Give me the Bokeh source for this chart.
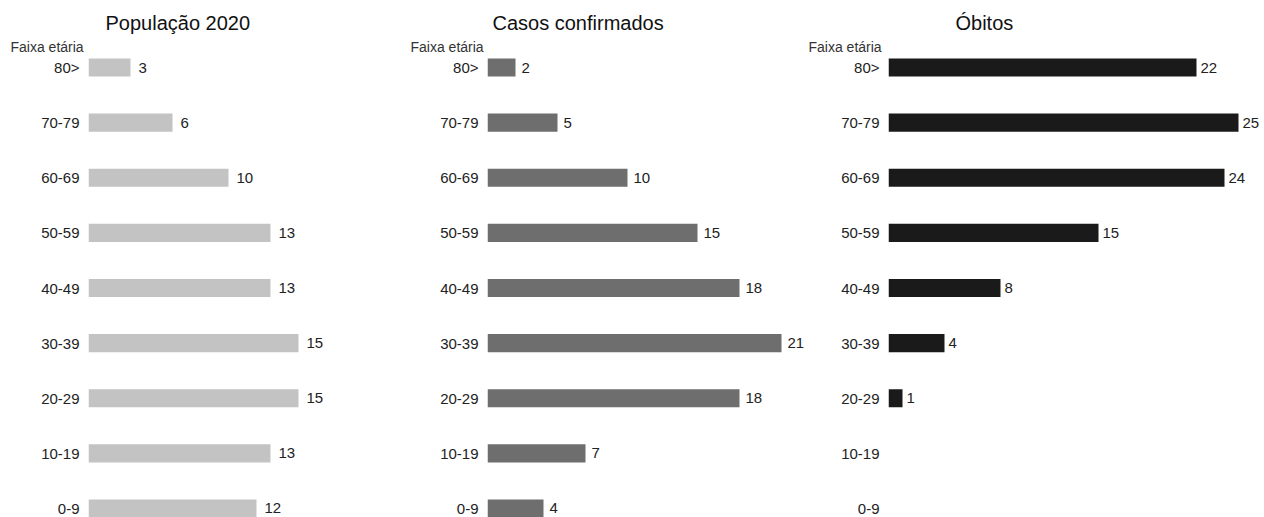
import numpy as np
from bokeh.plotting import figure
from bokeh.models import ColumnDataSource, Range1d, FixedTicker, Title
from bokeh.layouts import row
from bokeh.embed import file_html
from bokeh.resources import INLINE
from bokeh.core.properties import value

groups = ["0-9", "10-19", "20-29", "30-39", "40-49", "50-59", "60-69", "70-79", "80>"]
populacao = [12, 13, 15, 15, 13, 13, 10, 6, 3]
casos = [4, 7, 18, 21, 18, 15, 10, 5, 2]
obitos = [0, 0, 1, 4, 8, 15, 24, 25, 22]

titles = ["População 2020", "Casos confirmados", "Óbitos"]
colors = ["#c3c3c3", "#6e6e6e", "#1a1a1a"]
FONT = "Liberation Sans"

PX_PER_UNIT = 14.0
ROW_PX = 55.1
H = 517
TOP = 56
FIRST_ROW_CENTER = 67
LAST_ROW_CENTER = 508


def panel(vals, title, color, width, left, title_offset, label_gap, faixa_x):
    frame_w = width - left
    y_top = len(groups) - 1 + (FIRST_ROW_CENTER - TOP) / ROW_PX
    y_bot = -(H - LAST_ROW_CENTER) / ROW_PX
    p = figure(width=width, height=H, min_border_left=left, min_border_right=0,
               min_border_top=TOP, min_border_bottom=0, title=None,
               toolbar_location=None, output_backend="svg",
               x_range=Range1d(0, frame_w / PX_PER_UNIT),
               y_range=Range1d(y_bot, y_top),
               x_axis_location=None)
    p.outline_line_color = None
    p.grid.visible = False
    p.background_fill_color = "white"
    p.border_fill_color = "white"
    ys = list(range(len(groups)))
    src = ColumnDataSource(dict(y=ys, v=vals, g=groups))
    p.hbar(y="y", left=0, right="v", height=18 / ROW_PX, source=src,
           fill_color=color, line_color=None)
    ly = [y for y, v in zip(ys, vals) if v > 0]
    lv = [v for v in vals if v > 0]
    lsrc = ColumnDataSource(dict(y=ly, v=lv, t=[str(v) for v in lv]))
    p.text(x="v", y="y", text="t", source=lsrc, x_offset=label_gap,
           text_baseline="middle", text_align="left",
           text_font=value(FONT), text_font_size="15px", text_color="#222222")
    ax = p.yaxis[0]
    ax.ticker = FixedTicker(ticks=ys)
    ax.major_label_overrides = {y: g for y, g in zip(ys, groups)}
    ax.axis_line_color = None
    ax.major_tick_line_color = None
    ax.minor_tick_line_color = None
    ax.major_label_standoff = 3
    ax.major_label_text_font = FONT
    ax.major_label_text_font_size = "15px"
    ax.major_label_text_color = "#222222"
    p.add_layout(Title(text="Faixa etária", align="left", offset=-(left - faixa_x),
                       text_font=FONT, text_font_size="14px",
                       text_font_style="normal", text_color="#333333",
                       standoff=4), "above")
    p.add_layout(Title(text=title, align="left", offset=title_offset,
                       text_font=FONT, text_font_size="20px",
                       text_font_style="normal", text_color="#111111",
                       standoff=2), "above")
    return p


p1 = panel(populacao, titles[0], colors[0], 400, 88, 17, 8, 10)
p2 = panel(casos, titles[1], colors[1], 408, 87, 5, 6, 10)
p3 = panel(obitos, titles[2], colors[2], 456, 80, 67, 4, 0)

layout = row(p1, p2, p3)
open("out.html", "w").write(file_html(layout, INLINE))
